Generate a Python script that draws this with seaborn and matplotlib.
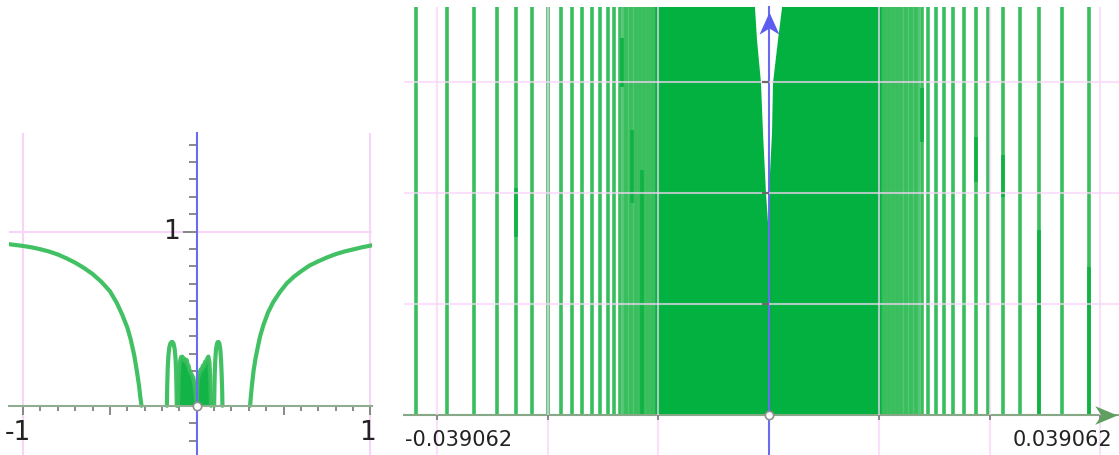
import matplotlib
matplotlib.use('Agg')
import matplotlib.pyplot as plt
from matplotlib.path import Path
from matplotlib.ticker import FixedLocator, NullFormatter
import seaborn as sns

sns.set_style('white')
plt.rcParams['font.family'] = ['DejaVu Sans']

# ---- left view, x in [-1, 1] ----
outer_neg_x = [-1.08, -1.00, -0.95, -0.90, -0.85, -0.80, -0.75, -0.70, -0.65, -0.60, -0.55, -0.50,
               -0.46, -0.43, -0.40, -0.38, -0.36, -0.345, -0.333, -0.325, -0.318]
outer_neg_y = [0.928, 0.918, 0.910, 0.899, 0.886, 0.869, 0.847, 0.822, 0.792, 0.757, 0.713, 0.658,
               0.590, 0.525, 0.45, 0.38, 0.29, 0.20, 0.12, 0.05, 0.0]
outer_pos_x = [0.307, 0.312, 0.318, 0.327, 0.338, 0.35, 0.365, 0.384, 0.41, 0.44, 0.48, 0.52, 0.56,
               0.60, 0.65, 0.70, 0.75, 0.80, 0.85, 0.90, 0.95, 1.01]
outer_pos_y = [0.0, 0.06, 0.12, 0.20, 0.27, 0.33, 0.40, 0.464, 0.535, 0.595, 0.655, 0.705, 0.742,
               0.772, 0.806, 0.830, 0.852, 0.871, 0.886, 0.898, 0.910, 0.922]
bump_neg_x = [-0.172, -0.170, -0.167, -0.163, -0.158, -0.152, -0.145, -0.139, -0.133, -0.127,
              -0.122, -0.119, -0.117, -0.115]
bump_neg_y = [0.0, 0.12, 0.22, 0.29, 0.335, 0.358, 0.366, 0.366, 0.355, 0.325, 0.27, 0.20, 0.11, 0.0]
bump_pos_x = [0.100, 0.102, 0.104, 0.107, 0.111, 0.116, 0.121, 0.126, 0.131, 0.136, 0.140, 0.143,
              0.146, 0.148]
bump_pos_y = [0.0, 0.11, 0.20, 0.27, 0.325, 0.355, 0.366, 0.366, 0.355, 0.32, 0.26, 0.19, 0.10, 0.0]
dense_neg_x = [-0.108, -0.104, -0.098, -0.090, -0.083, -0.076, -0.070, -0.064, -0.058, -0.052,
               -0.047, -0.043, -0.036, -0.030, -0.023, -0.016, -0.010, -0.004, 0.0]
dense_neg_y = [0.0, 0.18, 0.25, 0.28, 0.282, 0.265, 0.27, 0.255, 0.263, 0.235, 0.23, 0.209,
               0.19, 0.18, 0.167, 0.135, 0.10, 0.04, 0.0]
dense_pos_x = [0.0, 0.003, 0.006, 0.011, 0.017, 0.023, 0.029, 0.035, 0.041, 0.048, 0.054, 0.060,
               0.067, 0.073, 0.078, 0.082]
dense_pos_y = [0.0, 0.10, 0.167, 0.17, 0.19, 0.209, 0.205, 0.23, 0.225, 0.253, 0.25, 0.27,
               0.282, 0.25, 0.16, 0.0]
left_grid = [-1, 1]
left_xmajor = [-1, -0.5, 0.5, 1]
left_xlabels = {-1: '-1', 1: '1'}

# ---- right view, zoom around 0 ----
spike_x = [-0.03988, -0.03637, -0.03331, -0.03071, -0.02856, -0.02675, -0.02494, -0.02347,
           -0.02223, -0.02110, -0.01997, -0.01906, -0.01816, -0.01748, -0.01680, -0.01612,
           -0.01555, -0.01499, -0.01454, -0.01408, -0.01363, -0.01318, -0.01284,
           0.01284, 0.01318, 0.01363, 0.01408, 0.01454, 0.01499, 0.01555, 0.01612, 0.01669,
           0.01736, 0.01804, 0.01895, 0.01985, 0.02087, 0.02212, 0.02347, 0.02483, 0.02653,
           0.02845, 0.03060, 0.03320, 0.03626]
dark_x = [0.03060, 0.03626, 0.02653, 0.02347, 0.01736, -0.02856, -0.01544, -0.01431, -0.01657]
dark_y0 = [0.0, 0.0, 0.02455, 0.02624, 0.03074, 0.02004, 0.02387, 0.0, 0.03694]
dark_y1 = [0.02083, 0.01667, 0.02928, 0.03131, 0.03682, 0.02556, 0.03209, 0.02759, 0.04245]
band_edge = 0.0128
fade_neg = (-0.0166, -0.0125)
fade_pos = (0.0126, 0.0171)
notch_x = [-0.001527, -0.001301, -0.000848, -0.000622, -0.000283, 0.0,
           0.0000566, 0.000396, 0.000509, 0.001075, 0.001527]
notch_y = [0.04583, 0.04223, 0.03739, 0.03176, 0.0250, 0.02083,
           0.0250, 0.03176, 0.03739, 0.04223, 0.04583]
right_xgrid = [-0.0375, -0.025, -0.0125, 0.0125, 0.025, 0.0375]
right_ygrid = [0.0125, 0.025, 0.0375]
right_labels = ['-0.039062', '0.039062']

CURVE = '#38be5c'
DENSE = '#02b140'
PINK = '#f8d4f8'
W, H = 1119, 455

fig = plt.figure(figsize=(W / 100, H / 100), dpi=100)


def px_axes(x0, y0, x1, y1):
    return fig.add_axes([x0 / W, 1 - y1 / H, (x1 - x0) / W, (y1 - y0) / H])


def style_axes(ax, xcol, ycol):
    for s in ['top', 'right']:
        ax.spines[s].set_visible(False)
    ax.spines['bottom'].set_position(('data', 0))
    ax.spines['left'].set_position(('data', 0))
    ax.spines['bottom'].set_color(xcol)
    ax.spines['left'].set_color(ycol)
    ax.spines['bottom'].set_linewidth(1.5)
    ax.spines['left'].set_linewidth(1.5)
    ax.xaxis.set_major_formatter(NullFormatter())
    ax.yaxis.set_major_formatter(NullFormatter())
    ax.tick_params(which='both', bottom=True, left=True, top=False, right=False)
    ax.set_facecolor('white')


# ---------------- left panel ----------------
ax1 = px_axes(9, 133, 372, 455)
ax1.set_xlim(-1.081, 1.009)
ax1.set_ylim(-0.283, 1.567)
style_axes(ax1, '#8fae8f', '#6b6bf0')

for g in left_grid:
    ax1.axvline(g, color=PINK, lw=1.5, zorder=0)
ax1.axhline(1, color=PINK, lw=1.5, zorder=0)

ax1.fill(dense_neg_x, dense_neg_y, color='#12b447', lw=0, zorder=1)
ax1.fill(dense_pos_x, dense_pos_y, color='#12b447', lw=0, zorder=1)
for xs, ys in [(outer_neg_x, outer_neg_y), (outer_pos_x, outer_pos_y),
               (bump_neg_x, bump_neg_y), (bump_pos_x, bump_pos_y),
               (dense_neg_x, dense_neg_y), (dense_pos_x, dense_pos_y)]:
    sns.lineplot(x=xs, y=ys, ax=ax1, sort=False, estimator=None, color=CURVE,
                 lw=3.0, alpha=0.95, zorder=2, solid_joinstyle='round', solid_capstyle='round')

ax1.xaxis.set_major_locator(FixedLocator(left_xmajor))
ax1.xaxis.set_minor_locator(FixedLocator([round(-1 + 0.1 * i, 1) for i in range(21)]))
ax1.yaxis.set_major_locator(FixedLocator([1]))
ax1.yaxis.set_minor_locator(FixedLocator([round(-0.2 + 0.1 * i, 1) for i in range(18)]))
ax1.tick_params(axis='x', which='major', direction='out', length=6.5, width=1.3, color='#808080')
ax1.tick_params(axis='x', which='minor', direction='out', length=3.6, width=1.3, color='#808080')
ax1.tick_params(axis='y', which='major', direction='out', length=10, width=1.3, color='#808080')
ax1.tick_params(axis='y', which='minor', direction='out', length=5.5, width=1.3, color='#808080')
for t, v in zip(ax1.xaxis.get_major_ticks(len(left_xmajor)), left_xmajor):
    if 0 < v < 1:
        t.tick1line.set_color('#7c7cff')
mlocs = ax1.xaxis.get_minorticklocs()
for t, v in zip(ax1.xaxis.get_minor_ticks(len(mlocs)), mlocs):
    if 0 < v < 1:
        t.tick1line.set_color('#7c7cff')

for v, s in left_xlabels.items():
    ax1.annotate(s, xy=(v, 0), xytext=(-5 if v < 0 else -3, -27), textcoords='offset pixels',
                 ha='center', va='center', fontsize=19, color='#222222')
ax1.annotate('1', xy=(0, 1), xytext=(-25, 0), textcoords='offset pixels',
             ha='center', va='center', fontsize=19, color='#222222')
ax1.plot([0], [0], 'o', mfc='white', mec='#909090', ms=6, mew=1.2, zorder=6, clip_on=False)

# ---------------- right panel ----------------
ax2 = px_axes(404, 7, 1119, 455)
ax2.set_xlim(-0.041233, 0.039649)
ax2.set_ylim(-0.004505, 0.045946)
style_axes(ax2, '#86a886', '#6b6bf0')
bottom, top = ax2.get_ylim()
zero_frac = -bottom / (top - bottom)

ax2.axvspan(*fade_neg, ymin=zero_frac, color='#55c675', lw=0, zorder=1)
ax2.axvspan(*fade_pos, ymin=zero_frac, color='#55c675', lw=0, zorder=1)
ax2.vlines(spike_x, 0, top, color=CURVE, lw=2.6, zorder=1.5)
ax2.vlines(dark_x, dark_y0, dark_y1, color='#0fb243', lw=2.6, zorder=1.6)

band_l_x = [-band_edge, -band_edge, notch_x[0]] + notch_x[:6] + [0.0]
band_l_y = [0.0, top, top] + notch_y[:6] + [0.0]
band_r_x = [0.0] + notch_x[5:] + [notch_x[-1], band_edge, band_edge]
band_r_y = [0.0] + notch_y[5:] + [top, top, 0.0]
ax2.fill(band_l_x, band_l_y, color=DENSE, lw=0, zorder=1.7)
ax2.fill(band_r_x, band_r_y, color=DENSE, lw=0, zorder=1.7)

ax2.xaxis.set_major_locator(FixedLocator(right_xgrid))
ax2.yaxis.set_major_locator(FixedLocator(right_ygrid))
ax2.set_axisbelow(False)
ax2.grid(True, color=PINK, alpha=0.7, lw=1.5)
ax2.tick_params(axis='x', direction='out', length=3.6, width=1.3, color='#808080')
ax2.tick_params(axis='y', direction='out', length=5, width=1.6, color='#6a6a6a')

arrow_r = Path([(0, 0), (-1, 0.42), (-0.72, 0), (-1, -0.42), (0, 0)],
               [Path.MOVETO, Path.LINETO, Path.LINETO, Path.LINETO, Path.CLOSEPOLY])
arrow_u = Path([(0, 0), (-0.45, -1), (0, -0.72), (0.45, -1), (0, 0)],
               [Path.MOVETO, Path.LINETO, Path.LINETO, Path.LINETO, Path.CLOSEPOLY])
ax2.plot([0.9972], [0], marker=arrow_r, ms=32, color='#5f9f5f', mew=0,
         transform=ax2.get_yaxis_transform(), clip_on=False, zorder=7)
ax2.plot([0], [0.9888], marker=arrow_u, ms=32, color='#5c5cf0', mew=0,
         transform=ax2.get_xaxis_transform(), clip_on=False, zorder=7)
ax2.plot([0], [0], 'o', mfc='white', mec='#909090', ms=6, mew=1.2, zorder=6, clip_on=False)

ax2.annotate(right_labels[0], xy=(0, 0), xycoords='axes fraction', xytext=(1, 15),
             textcoords='offset pixels', ha='left', va='center', fontsize=15, color='#222222')
ax2.annotate(right_labels[1], xy=(1, 0), xycoords='axes fraction', xytext=(-7, 15),
             textcoords='offset pixels', ha='right', va='center', fontsize=15, color='#222222')

fig.savefig('out.png', dpi=100)
